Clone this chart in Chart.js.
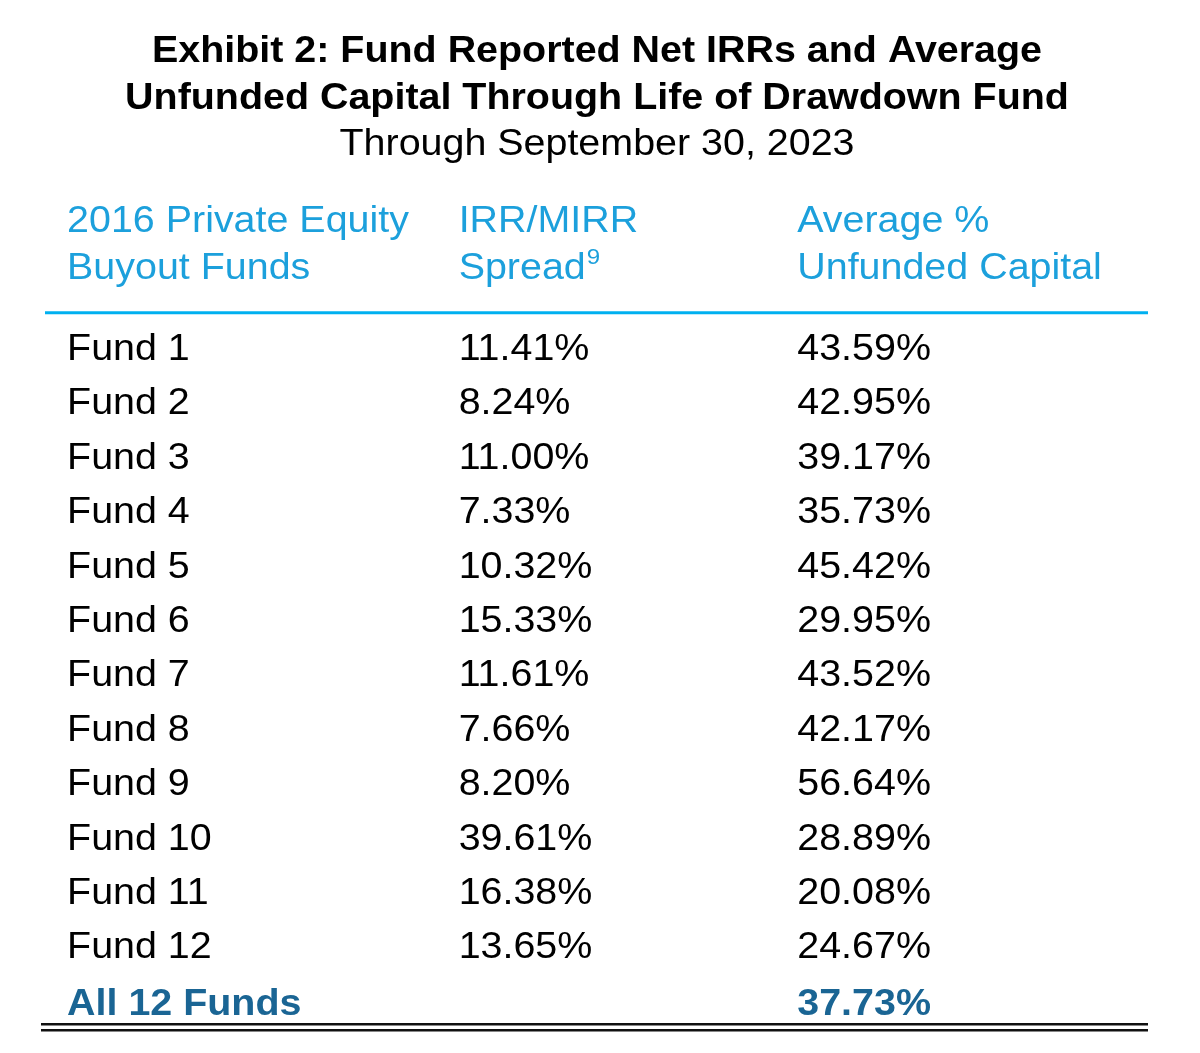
<!DOCTYPE html>
<html>
<head>
<meta charset="utf-8">
<script src="https://cdn.jsdelivr.net/npm/chart.js@4.4.0/dist/chart.umd.min.js"></script>
<style>
  body { margin: 0; background: #fff; }
  #wrap { width: 1200px; height: 1053px; }
</style>
</head>
<body>
<div id="wrap"><canvas id="exhibit"></canvas></div>
<script>
const titleLines = ['Exhibit 2: Fund Reported Net IRRs and Average', 'Unfunded Capital Through Life of Drawdown Fund'];
const subtitle = 'Through September 30, 2023';
const headers = [['2016 Private Equity', 'Buyout Funds'], ['IRR/MIRR', 'Spread'], ['Average %', 'Unfunded Capital']];
const headerNote = '9';
const funds = ['Fund 1', 'Fund 2', 'Fund 3', 'Fund 4', 'Fund 5', 'Fund 6', 'Fund 7', 'Fund 8', 'Fund 9', 'Fund 10', 'Fund 11', 'Fund 12'];
const irrSpread = [11.41, 8.24, 11.00, 7.33, 10.32, 15.33, 11.61, 7.66, 8.20, 39.61, 16.38, 13.65];
const unfunded = [43.59, 42.95, 39.17, 35.73, 45.42, 29.95, 43.52, 42.17, 56.64, 28.89, 20.08, 24.67];
const totalLabel = 'All 12 Funds';
const totalUnfunded = 37.73;

// where each column's text starts, as a share of the table width
const colAnchor = [0.02, 0.375, 0.682];
const FONT = '"Liberation Sans", Arial, sans-serif';
const stretch = 1.095; // the exhibit's type is a touch wider than the font

const rows = [...funds, totalLabel];
const pct = v => v.toFixed(2) + '%';

function text(ctx, str, x, y, font, color, align) {
  ctx.save();
  ctx.font = font;
  ctx.fillStyle = color;
  ctx.textAlign = align || 'left';
  ctx.translate(x, y);
  ctx.scale(stretch, 1);
  ctx.fillText(str, 0, 0);
  ctx.restore();
}

const tablePlugin = {
  id: 'tablePlugin',
  afterDatasetsDraw(chart) {
    const ctx = chart.ctx;
    const area = chart.chartArea;
    const xs = chart.scales.x;

    // titles
    ctx.textBaseline = 'alphabetic';
    text(ctx, titleLines[0], 597, 62, 'bold 36px ' + FONT, '#000', 'center');
    text(ctx, titleLines[1], 597, 109, 'bold 36px ' + FONT, '#000', 'center');
    text(ctx, subtitle, 597, 155, '36px ' + FONT, '#000', 'center');

    // column headers
    headers.forEach((h, i) => {
      const x = xs.getPixelForValue(colAnchor[i]);
      text(ctx, h[0], x, 232, '36px ' + FONT, '#1ca0dc');
      text(ctx, h[1], x, 279, '36px ' + FONT, '#1ca0dc');
      if (i === 1) {
        ctx.save();
        ctx.font = '36px ' + FONT;
        const w = ctx.measureText(h[1]).width * stretch;
        ctx.restore();
        text(ctx, headerNote, x + w + 1, 264, '22px ' + FONT, '#1ca0dc');
      }
    });

    // header rule
    ctx.save();
    ctx.strokeStyle = '#00b0f0';
    ctx.lineWidth = 3;
    ctx.beginPath();
    ctx.moveTo(area.left, area.top - 8);
    ctx.lineTo(area.right, area.top - 8);
    ctx.stroke();
    // double rule under the total
    ctx.strokeStyle = '#111';
    ctx.lineWidth = 2.5;
    [area.bottom - 4, area.bottom + 2].forEach(y => {
      ctx.beginPath();
      ctx.moveTo(area.left - 4, y);
      ctx.lineTo(area.right, y);
      ctx.stroke();
    });
    ctx.restore();

    // cells
    ctx.textBaseline = 'middle';
    chart.data.datasets.forEach((ds, di) => {
      const meta = chart.getDatasetMeta(di);
      meta.data.forEach((pt, i) => {
        const isTotal = ds.data[i].y === totalLabel;
        const font = (isTotal ? 'bold ' : '') + '36px ' + FONT;
        text(ctx, ds.cellText[i], pt.x, pt.y + (isTotal ? 4 : 2), font, isTotal ? '#1a6594' : '#000');
      });
    });
  }
};

new Chart(document.getElementById('exhibit'), {
  type: 'scatter',
  data: {
    datasets: [
      { label: 'fund', data: rows.map(r => ({ x: colAnchor[0], y: r })), cellText: rows },
      { label: 'irr', data: funds.map(f => ({ x: colAnchor[1], y: f })), cellText: irrSpread.map(pct) },
      {
        label: 'unfunded',
        data: rows.map(r => ({ x: colAnchor[2], y: r })),
        cellText: [...unfunded, totalUnfunded].map(pct)
      }
    ]
  },
  options: {
    responsive: true,
    maintainAspectRatio: false,
    animation: false,
    events: [],
    elements: { point: { radius: 0 } },
    layout: { padding: { top: 320.8, bottom: 24.8, left: 45, right: 52 } },
    plugins: { legend: { display: false }, tooltip: { enabled: false } },
    scales: {
      x: { type: 'linear', min: 0, max: 1, display: false },
      y: { type: 'category', labels: rows, offset: true, display: false }
    }
  },
  plugins: [tablePlugin]
});
</script>
</body>
</html>
